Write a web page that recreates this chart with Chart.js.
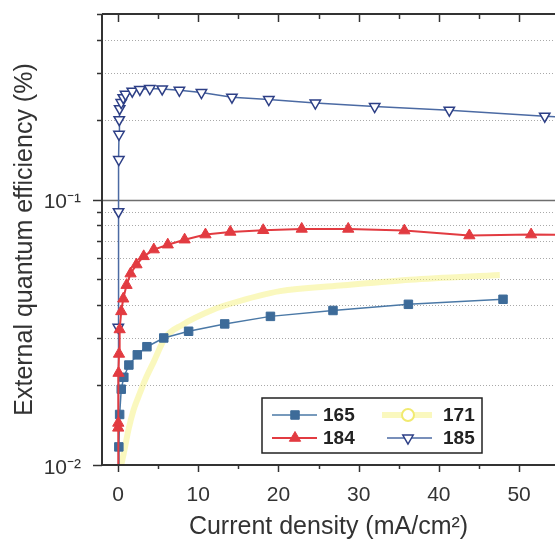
<!DOCTYPE html>
<html>
<head>
<meta charset="utf-8">
<script src="https://cdn.jsdelivr.net/npm/chart.js@4.4.1/dist/chart.umd.min.js"></script>
<style>
  html, body { margin: 0; padding: 0; background: #fff; }
  canvas { display: block; }
</style>
</head>
<body>
<canvas id="eqeChart" width="555" height="545"></canvas>
<script>
// values (current density in mA/cm2, EQE in %)
const seriesNames = ['165', '171', '184', '185'];

const x165 = [0.03, 0.1, 0.2, 0.4, 0.72, 1.35, 2.4, 3.6, 5.7, 8.8, 13.3, 19.0, 26.8, 36.2, 48.0];
const y165 = [0.008, 0.0117, 0.0155, 0.0193, 0.0214, 0.0238, 0.026, 0.0279, 0.0301, 0.0319, 0.034, 0.0363, 0.0382, 0.0403, 0.0421];

const x171 = [0.37, 0.8, 1.3, 1.93, 2.55, 3.4, 4.4, 5.9, 8.0, 11.9, 14.0, 20.2, 27.7, 36.4, 47.6];
const y171 = [0.0099, 0.0114, 0.0136, 0.0161, 0.0181, 0.021, 0.0243, 0.0302, 0.0337, 0.0385, 0.0405, 0.0452, 0.0474, 0.0499, 0.052];

const x184 = [0.01, 0.02, 0.03, 0.06, 0.12, 0.2, 0.4, 0.65, 1.06, 1.56, 2.3, 3.2, 4.46, 6.2, 8.3, 10.9, 14.0, 18.1, 22.9, 28.7, 35.7, 43.8, 51.5, 58];
const y184 = [0.008, 0.0138, 0.0144, 0.0222, 0.0262, 0.0324, 0.0379, 0.0423, 0.0476, 0.0526, 0.0569, 0.0611, 0.0648, 0.0676, 0.0706, 0.0738, 0.0755, 0.0766, 0.0775, 0.0775, 0.0764, 0.0732, 0.0738, 0.0735];

const x185 = [0.01, 0.03, 0.06, 0.1, 0.12, 0.15, 0.2, 0.4, 0.65, 0.93, 1.77, 2.72, 3.96, 5.5, 7.65, 10.4, 14.2, 18.8, 24.6, 32.0, 41.3, 53.2, 58];
const y185 = [0.008, 0.033, 0.09, 0.1415, 0.176, 0.2, 0.22, 0.232, 0.242, 0.249, 0.256, 0.26, 0.262, 0.261, 0.258, 0.253, 0.243, 0.238, 0.231, 0.224, 0.217, 0.206, 0.203];

const xTicks = [0, 10, 20, 30, 40, 50];
const xMinorTicks = [5, 15, 25, 35, 45];
const yTicks = [0.01, 0.02, 0.03, 0.04, 0.05, 0.06, 0.07, 0.08, 0.09, 0.1, 0.2, 0.3, 0.4, 0.5];
const yTickLabels = ['10⁻²', '', '', '', '', '', '', '', '', '10⁻¹', '', '', '', ''];

const FONT = "'Liberation Sans', Arial, sans-serif";

function pts(xs, ys) {
  return xs.map((x, i) => ({ x: x, y: ys[i] }));
}

function isDecade(v) {
  const l = Math.log10(v);
  return Math.abs(l - Math.round(l)) < 1e-9;
}

function line(ctx, x1, y1, x2, y2) {
  ctx.beginPath();
  ctx.moveTo(x1, y1);
  ctx.lineTo(x2, y2);
  ctx.stroke();
}

// same shapes chart.js uses, for the legend
function marker(ctx, style, x, y, r, rotDeg) {
  ctx.beginPath();
  if (style === 'rect') {
    const s = r * Math.SQRT1_2;
    ctx.rect(x - s, y - s, 2 * s, 2 * s);
  } else if (style === 'circle') {
    ctx.arc(x, y, r, 0, Math.PI * 2);
  } else {
    let rad = (rotDeg || 0) * Math.PI / 180;
    ctx.moveTo(x + Math.sin(rad) * r, y - Math.cos(rad) * r);
    rad += 2 * Math.PI / 3;
    ctx.lineTo(x + Math.sin(rad) * r, y - Math.cos(rad) * r);
    rad += 2 * Math.PI / 3;
    ctx.lineTo(x + Math.sin(rad) * r, y - Math.cos(rad) * r);
    ctx.closePath();
  }
  ctx.fill();
  ctx.stroke();
}

// no extra room for labels hanging over the ends of the axes
function noPad(s) {
  s.paddingTop = 0;
  s.paddingBottom = 0;
  s.paddingLeft = 0;
  s.paddingRight = 0;
}

const framePlugin = {
  id: 'frame',
  beforeDatasetsDraw(chart) {
    const { ctx, chartArea: a, scales: { y } } = chart;
    ctx.save();
    yTicks.forEach(v => {
      if (v === yTicks[0] || v === yTicks[yTicks.length - 1]) return;
      const py = Math.round(y.getPixelForValue(v)) + 0.5;
      if (isDecade(v)) {
        ctx.setLineDash([]);
        ctx.strokeStyle = '#6e6e6e';
        ctx.lineWidth = 1.5;
      } else {
        ctx.setLineDash([1, 2]);
        ctx.strokeStyle = '#a9a9a9';
        ctx.lineWidth = 1;
      }
      line(ctx, a.left, py, a.right, py);
    });
    ctx.restore();
  },
  afterDatasetsDraw(chart) {
    const { ctx, chartArea: a, scales: { x, y } } = chart;
    ctx.save();
    ctx.strokeStyle = '#333';
    ctx.lineWidth = 2;
    line(ctx, a.left, a.top, a.right, a.top);
    line(ctx, a.left, a.bottom, a.right, a.bottom);
    line(ctx, a.left, a.top, a.left, a.bottom);

    ctx.lineWidth = 1.5;
    yTicks.forEach(v => {
      const py = Math.round(y.getPixelForValue(v)) + 0.5;
      const len = isDecade(v) ? 9 : 5;
      line(ctx, a.left - len, py, a.left, py);
    });
    xTicks.forEach(v => {
      const px = Math.round(x.getPixelForValue(v)) + 0.5;
      line(ctx, px, a.bottom, px, a.bottom + 7);
      line(ctx, px, a.top, px, a.top + 8);
    });
    xMinorTicks.forEach(v => {
      const px = Math.round(x.getPixelForValue(v)) + 0.5;
      line(ctx, px, a.bottom, px, a.bottom + 4);
      line(ctx, px, a.top, px, a.top + 5);
    });
    ctx.restore();
  }
};

// legend box in the lower right, two columns
const legendPlugin = {
  id: 'boxLegend',
  afterDraw(chart) {
    const ctx = chart.ctx;
    const box = { left: 262, top: 398, right: 482, bottom: 453 };
    const slots = [
      { x1: 272, x2: 317, mx: 295, tx: 323, ty: 415 },
      { x1: 382, x2: 432, mx: 408, tx: 443, ty: 415 },
      { x1: 272, x2: 317, mx: 295, tx: 323, ty: 438 },
      { x1: 387, x2: 432, mx: 408, tx: 443, ty: 438 }
    ];
    ctx.save();
    ctx.fillStyle = '#fff';
    ctx.fillRect(box.left, box.top, box.right - box.left, box.bottom - box.top);
    ctx.strokeStyle = '#222';
    ctx.lineWidth = 1.5;
    ctx.strokeRect(box.left, box.top, box.right - box.left, box.bottom - box.top);

    chart.data.datasets.forEach((ds, k) => {
      const s = slots[k];
      ctx.strokeStyle = ds.borderColor;
      ctx.lineWidth = ds.borderWidth;
      line(ctx, s.x1, s.ty, s.x2, s.ty);
      ctx.fillStyle = ds.legendFill || ds.pointBackgroundColor;
      ctx.strokeStyle = ds.legendStroke || ds.pointBorderColor;
      ctx.lineWidth = ds.pointBorderWidth || 1;
      marker(ctx, ds.pointStyle, s.mx, s.ty, ds.legendRadius || ds.pointRadius, ds.pointRotation);
      ctx.fillStyle = '#222';
      ctx.font = 'bold 19px ' + FONT;
      ctx.textAlign = 'left';
      ctx.textBaseline = 'middle';
      ctx.fillText(ds.label, s.tx, s.ty + 1);
    });
    ctx.restore();
  }
};

const datasets = [
  {
    label: seriesNames[0],
    data: pts(x165, y165),
    borderColor: '#4a78a6',
    borderWidth: 1.5,
    pointStyle: 'rect',
    pointRadius: 6,
    pointBackgroundColor: '#3d6b99',
    pointBorderColor: '#3d6b99',
    pointBorderWidth: 1,
    order: 1
  },
  {
    label: seriesNames[1],
    data: pts(x171, y171),
    borderColor: 'rgba(245, 240, 110, 0.45)',
    borderWidth: 6,
    cubicInterpolationMode: 'monotone',
    pointStyle: 'circle',
    pointRadius: 0,
    legendRadius: 6,
    legendFill: '#fff',
    legendStroke: '#f1ea70',
    pointBorderWidth: 2,
    order: 3
  },
  {
    label: seriesNames[2],
    data: pts(x184, y184),
    borderColor: '#e23b41',
    borderWidth: 2,
    pointStyle: 'triangle',
    pointRadius: 6.5,
    pointBackgroundColor: '#e23b41',
    pointBorderColor: '#e23b41',
    pointBorderWidth: 1,
    order: 0
  },
  {
    label: seriesNames[3],
    data: pts(x185, y185),
    borderColor: '#4b6aa3',
    borderWidth: 1.5,
    pointStyle: 'triangle',
    pointRotation: 180,
    pointRadius: 6,
    pointBackgroundColor: '#fff',
    pointBorderColor: '#2d3f86',
    pointBorderWidth: 1.5,
    order: 2
  }
];

new Chart(document.getElementById('eqeChart'), {
  type: 'line',
  data: { datasets: datasets },
  options: {
    responsive: false,
    animation: false,
    layout: { autoPadding: false, padding: { top: 14, right: 0, bottom: 0, left: 0 } },
    plugins: {
      legend: { display: false },
      tooltip: { enabled: false }
    },
    scales: {
      x: {
        type: 'linear',
        min: -2,
        max: 54.48,
        grid: { display: false },
        border: { display: false },
        afterBuildTicks: s => { s.ticks = xTicks.map(v => ({ value: v })); },
        afterFit: s => { s.height = 80; noPad(s); },
        ticks: {
          font: { size: 21, family: FONT },
          color: '#333',
          padding: 10,
          maxRotation: 0,
          autoSkip: false
        },
        title: {
          display: true,
          text: 'Current density (mA/cm²)',
          font: { size: 25, family: FONT },
          color: '#333',
          padding: { top: 0, bottom: 3 }
        }
      },
      y: {
        type: 'logarithmic',
        min: 0.01,
        max: 0.5,
        grid: { display: false },
        border: { display: false },
        afterBuildTicks: s => { s.ticks = yTicks.map(v => ({ value: v })); },
        afterFit: s => { s.width = 102; noPad(s); },
        ticks: {
          font: { size: 21, family: FONT },
          color: '#333',
          padding: 13,
          labelOffset: 3,
          autoSkip: false,
          callback: (value, index) => yTickLabels[index]
        },
        title: {
          display: true,
          text: 'External quantum efficiency (%)',
          font: { size: 25, family: FONT },
          color: '#333',
          padding: { top: 10, bottom: 0 }
        }
      }
    }
  },
  plugins: [framePlugin, legendPlugin]
});
</script>
</body>
</html>
